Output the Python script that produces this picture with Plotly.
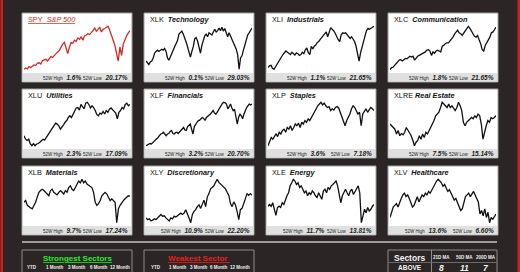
import plotly.graph_objects as go

# ---------------- data ----------------
tickers = ["SPY", "XLK", "XLI", "XLC", "XLU", "XLF", "XLP", "XLRE", "XLB", "XLY", "XLE", "XLV"]
names = ["S&amp;P 500", "Technology", "Industrials", "Communication", "Utilities", "Financials",
         "Staples", "Real Estate", "Materials", "Discretionary", "Energy", "Healthcare"]
high_52w = ["1.6%", "0.1%", "1.1%", "1.8%", "2.3%", "3.2%", "3.6%", "7.5%", "9.7%", "10.9%", "11.7%", "13.6%"]
low_52w = ["20.17%", "29.03%", "21.65%", "21.65%", "17.09%", "20.70%", "7.18%", "15.14%", "17.24%", "22.20%", "13.81%", "6.60%"]

spy = [1,4,2,7,5,9,11,10,15,16,13,21,22,24,20,26,30,28,33,37,41,44,52,59,63,48,37,52,63,61,68,65,73,70,76,68,78,80,83,81,85,90,96,89,93,98,87,93,95,98,100,90,81,68,56,37,20,52,33,59,70,78,85,90]
xlk = [20,16,12,18,20,27,38,42,45,42,45,47,45,49,42,27,22,31,38,45,53,60,67,82,85,89,82,74,64,53,38,29,42,53,71,74,66,53,38,56,69,78,82,76,85,82,80,87,93,87,90,96,90,98,89,95,85,76,85,78,69,64,53,47,34,1,27,32,45,56,71,80,85,90,96]
xli = [5,9,10,3,1,7,13,20,25,31,35,39,43,40,37,35,40,37,34,39,37,33,35,40,37,46,50,39,35,54,48,54,57,63,65,70,75,80,85,87,76,87,97,93,90,84,75,69,65,80,85,84,85,80,76,72,76,70,65,54,35,20,39,54,65,78,90,95,93,96,99,100]
xlc = [0,5,6,10,14,18,22,23,20,23,26,25,28,31,29,31,22,28,31,33,35,37,40,41,45,46,43,33,41,38,43,45,43,41,54,56,60,62,62,66,69,75,82,87,91,85,83,79,85,89,95,100,95,89,85,77,75,79,69,60,46,43,56,62,68,75,85,87,92,98]
xlu = [23,15,12,15,4,0,5,0,4,5,8,12,15,13,19,23,31,35,42,46,52,50,46,38,42,48,54,58,65,69,65,73,81,87,88,82,95,90,85,98,100,95,87,92,88,81,72,69,75,73,79,73,81,77,84,87,82,79,75,62,77,81,88,85,95,98,92,95]
xlf = [0,2,2,5,4,8,10,13,15,19,23,27,28,31,27,23,27,28,33,35,28,27,30,31,28,32,35,38,42,36,35,44,46,50,38,27,44,50,54,58,59,62,65,63,58,65,67,69,73,77,81,75,73,77,82,88,94,98,100,99,96,85,90,96,87,81,84,69,50,65,73,69,62,73,81,88,92,96,94,96]
xlp = [0,12,19,15,23,27,21,31,27,35,38,31,42,38,46,35,42,50,46,52,42,54,50,58,54,62,58,65,69,77,85,92,96,100,94,98,92,88,90,81,85,82,88,90,87,77,65,54,46,58,65,73,85,92,88,81,73,77,46,73,81,85,77,82,88,85,81]
xlre = [50,46,42,38,27,35,23,28,25,31,42,35,27,23,12,0,8,12,23,15,27,19,31,27,35,42,50,58,69,73,77,88,100,96,92,88,96,88,92,85,81,88,100,92,81,54,46,54,58,62,65,62,69,65,73,69,50,15,35,46,58,54,65,62,65,69]
xlb = [47,51,40,36,34,32,40,47,59,70,74,77,74,70,66,62,74,77,70,66,64,70,74,70,66,74,70,81,85,77,74,81,89,96,92,100,92,96,89,86,85,81,70,47,40,44,51,62,66,70,66,59,51,55,51,47,0,32,40,47,51,55,59,62,61]
xly = [11,7,9,4,6,9,7,11,15,19,15,16,11,7,4,11,9,15,13,16,19,22,19,22,30,22,11,0,19,26,30,37,41,33,44,52,37,59,67,78,81,85,93,100,93,89,85,81,78,70,63,44,37,48,41,26,7,30,33,44,56,67,63,67,63]
xle = [38,42,38,46,31,17,35,38,35,46,42,54,62,69,85,92,100,96,88,92,81,85,77,69,73,62,69,65,73,69,62,58,69,62,54,73,77,69,81,77,85,88,92,96,85,69,46,62,69,77,69,62,73,77,65,73,81,85,69,0,15,31,23,35,27,31,38,42]
xlv = [12,24,36,40,44,36,48,56,64,68,60,64,56,44,36,40,52,60,48,56,64,60,68,64,72,68,76,80,88,96,100,96,92,84,88,80,72,76,68,60,52,56,48,36,28,32,44,60,64,68,60,68,72,64,56,48,20,28,16,32,12,24,0,12,8,16,20]

period_labels = ["YTD", "1 Month", "3 Month", "6 Month", "12 Month"]
ma_labels = ["21D MA", "50D MA", "200D MA"]
ma_above = ["8", "11", "7"]

series = [spy, xlk, xli, xlc, xlu, xlf, xlp, xlre, xlb, xly, xle, xlv]

# ---------------- layout helpers ----------------
W, H = 520, 272
BG = "#2b2526"
FONT = "Liberation Sans"


def px(x):
    return x / W


def py(y):
    return 1 - y / H


COL_X = [22, 144, 266, 388]
ROW_Y = [13, 89, 166]
PW, PH = 110, 69

fig = go.Figure()
shapes = []
ann = []

for i, (tk, nm, vals, hi, lo) in enumerate(zip(tickers, names, series, high_52w, low_52w)):
    r, c = divmod(i, 4)
    left, top = COL_X[c], ROW_Y[r]
    right, bottom = left + PW, top + PH
    shapes.append(dict(type="rect", xref="paper", yref="paper", x0=px(left), x1=px(right),
                       y0=py(bottom), y1=py(top), fillcolor="white",
                       line=dict(color="#a0a0a0", width=1), layer="below"))
    shapes.append(dict(type="rect", xref="paper", yref="paper", x0=px(left + 1), x1=px(right - 1),
                       y0=py(bottom - 1), y1=py(bottom - 9), fillcolor="#e0e0e0",
                       line=dict(width=0), layer="below"))
    sfx = "" if i == 0 else str(i + 1)
    color = "#d42a22" if tk == "SPY" else "#111111"
    fig.add_trace(go.Scatter(x=list(range(len(vals))), y=vals, mode="lines",
                             line=dict(color=color, width=1.3),
                             xaxis="x" + sfx, yaxis="y" + sfx,
                             hoverinfo="skip", showlegend=False))
    fig.update_layout(**{
        "xaxis" + sfx: dict(domain=[px(left + 2), px(right - 2)], range=[0, len(vals) - 1],
                            visible=False, fixedrange=True, anchor="y" + sfx),
        "yaxis" + sfx: dict(domain=[py(bottom - 11), py(top + 12)], range=[-3, 103],
                            visible=False, fixedrange=True, anchor="x" + sfx),
    })
    # title
    if tk == "SPY":
        ttl = ('<span style="text-decoration:underline">SPY\u00a0\u00a0<i>' + nm + '</i></span>')
        tcol = "#d42a22"
    else:
        gap = "\u00a0" if len(tk) == 4 else "\u00a0\u00a0"
        ttl = tk + gap + "<b><i>" + nm + "</i></b>"
        tcol = "#111111"
    ann.append(dict(text=ttl, x=px(left + 4), y=py(top + 6.5), xref="paper", yref="paper",
                    xanchor="left", yanchor="middle", showarrow=False,
                    font=dict(family=FONT, size=7.3, color=tcol)))
    # footer texts
    ann.append(dict(text='<span style="font-size:4.5px">52W High</span>\u00a0\u00a0<b><i>' + hi + '</i></b>',
                    x=px(right - 49), y=py(bottom - 5), xref="paper", yref="paper",
                    xanchor="right", yanchor="middle", showarrow=False,
                    font=dict(family=FONT, size=6.5, color="#222222")))
    ann.append(dict(text='<span style="font-size:4.5px">52W Low</span>\u00a0\u00a0<b><i>' + lo + '</i></b>',
                    x=px(right - 2), y=py(bottom - 5), xref="paper", yref="paper",
                    xanchor="right", yanchor="middle", showarrow=False,
                    font=dict(family=FONT, size=6.5, color="#222222")))

# edge stripes
shapes.append(dict(type="rect", xref="paper", yref="paper", x0=px(0.5), x1=px(3),
                   y0=0, y1=1, fillcolor="#cc1f1f", line=dict(width=0), layer="below"))
shapes.append(dict(type="rect", xref="paper", yref="paper", x0=px(517.5), x1=px(520),
                   y0=0, y1=1, fillcolor="#cc1f1f", line=dict(width=0), layer="below"))

# separator line
shapes.append(dict(type="line", xref="paper", yref="paper", x0=px(22), x1=px(497),
                   y0=py(242), y1=py(242), line=dict(color="#c4c4c4", width=1.5)))

# bottom boxes
for x0, x1 in [(22, 132), (144, 254), (388, 497)]:
    shapes.append(dict(type="rect", xref="paper", yref="paper", x0=px(x0), x1=px(x1),
                       y0=py(290), y1=py(250), fillcolor=BG,
                       line=dict(color="#8c8c8c", width=1), layer="below"))
shapes.append(dict(type="line", xref="paper", yref="paper", x0=px(431.5), x1=px(431.5),
                   y0=py(290), y1=py(250), line=dict(color="#8c8c8c", width=1)))
shapes.append(dict(type="line", xref="paper", yref="paper", x0=px(388), x1=px(497),
                   y0=py(262.5), y1=py(262.5), line=dict(color="#6a6a6a", width=1)))

ann.append(dict(text='<span style="text-decoration:underline"><b>Strongest Sectors</b></span>',
                x=px(77.5), y=py(258), xref="paper", yref="paper", xanchor="center", yanchor="middle",
                showarrow=False, font=dict(family=FONT, size=8, color="#22ee22")))
ann.append(dict(text='<span style="text-decoration:underline"><b>Weakest Sector\u00a0</b></span>',
                x=px(199), y=py(258), xref="paper", yref="paper", xanchor="center", yanchor="middle",
                showarrow=False, font=dict(family=FONT, size=8, color="#ee1c1c")))
for xs in ([32, 54, 76, 98, 120], [156, 177, 198, 218, 240]):
    for xv, lab in zip(xs, period_labels):
        ann.append(dict(text="<b>" + lab + "</b>", x=px(xv), y=py(267.3), xref="paper", yref="paper",
                        xanchor="center", yanchor="middle", showarrow=False,
                        font=dict(family=FONT, size=4.5, color="#f0f0f0")))

ann.append(dict(text="<b>Sectors</b>", x=px(409.5), y=py(257.5), xref="paper", yref="paper",
                xanchor="center", yanchor="middle", showarrow=False,
                font=dict(family=FONT, size=8.5, color="#f4f4f4")))
ann.append(dict(text="<b>ABOVE</b>", x=px(409.5), y=py(267.3), xref="paper", yref="paper",
                xanchor="center", yanchor="middle", showarrow=False,
                font=dict(family=FONT, size=6.5, color="#f4f4f4")))
for xv, lab, val in zip([441.7, 464, 486], ma_labels, ma_above):
    ann.append(dict(text="<b>" + lab + "</b>", x=px(xv), y=py(257), xref="paper", yref="paper",
                    xanchor="center", yanchor="middle", showarrow=False,
                    font=dict(family=FONT, size=4.5, color="#f0f0f0")))
    ann.append(dict(text="<b><i>" + val + "</i></b>", x=px(xv), y=py(267.5), xref="paper", yref="paper",
                    xanchor="center", yanchor="middle", showarrow=False,
                    font=dict(family=FONT, size=8.5, color="#f4f4f4")))

# title (only the bottom edge of it shows at the top of the picture)
ann.append(dict(text="<b>Sector Snapshot, Weekly Charts by Category</b>", x=px(152), y=1,
                xref="paper", yref="paper", xanchor="center", yanchor="bottom", yshift=1,
                showarrow=False, font=dict(family=FONT, size=15, color="#f4f4f4")))

fig.update_layout(width=W, height=H, margin=dict(l=0, r=0, t=0, b=0),
                  paper_bgcolor=BG, plot_bgcolor="rgba(0,0,0,0)",
                  shapes=shapes, annotations=ann, showlegend=False)

fig.write_html("out.html", config={"displayModeBar": False})
